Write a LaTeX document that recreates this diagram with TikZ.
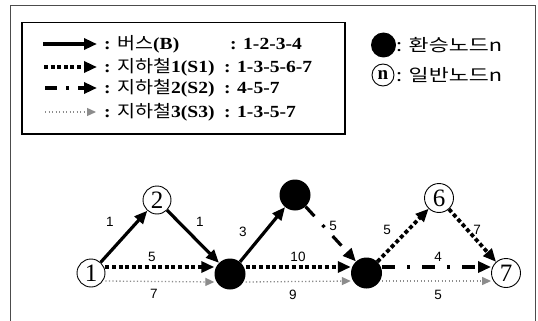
\documentclass[tikz,border=0pt]{standalone}
\usepackage{fontspec}
\usepackage{graphicx}
\setmainfont{Liberation Serif}
\newfontfamily\kr{Noto Sans CJK KR}
\newfontfamily\lsans{Liberation Sans}
\usetikzlibrary{arrows.meta,calc}

\tikzset{
  frameline/.style={line width=0.9pt, black!70},
  legbox/.style={line width=1.1pt, black},
  tipbig/.style={-{Triangle[length=13pt,width=11pt]}},
  bus/.style={line width=3.2pt, tipbig},
  sub1/.style={line width=3.8pt, dash pattern=on 4pt off 2.6pt, tipbig},
  sub2/.style={line width=3.2pt, dash pattern=on 13pt off 12pt on 3pt off 12pt, tipbig},
  sub3/.style={line width=1.3pt, black!45, dash pattern=on 1.2pt off 2.3pt, -{Triangle[length=9pt,width=8pt]}},
  plainnode/.style={circle, draw, line width=0.9pt, minimum size=28pt, inner sep=0pt, font=\fontsize{25}{25}\selectfont},
  xfer/.style={circle, fill=black, minimum size=31pt, inner sep=0pt},
  wlabel/.style={font=\lsans\fontsize{13.5}{13.5}\selectfont, inner sep=0pt},
  legtext/.style={anchor=west, inner sep=0pt, font=\bfseries\fontsize{17}{17}\selectfont},
  krtext/.style={anchor=west, inner sep=0pt, font=\kr\fontsize{17}{17}\selectfont},
}
\newcommand{\wide}[1]{\scalebox{1.15}[1]{#1}}
\newcommand{\krwide}[1]{\scalebox{1.28}[1]{#1}}

\begin{document}
\begin{tikzpicture}[x=1pt,y=-1pt]
\useasboundingbox (0,0) rectangle (538,321);
\fill[white] (0,0) rectangle (538,321);

% outer frame (bottom edge outside picture)
\draw[frameline] (10,321) -- (10,5.5) -- (535,5.5) -- (535,321);
% legend box
\draw[legbox] (22,22.5) rectangle (345,134);

% legend arrows
\coordinate (la1) at (43,44);  \coordinate (lb1) at (97,44);
\coordinate (la2) at (44,67);  \coordinate (lb2) at (97,67);
\coordinate (la3) at (45,88);  \coordinate (lb3) at (97,88);
\coordinate (la4) at (45,112); \coordinate (lb4) at (96,112);
\draw[bus] (la1) -- (lb1);
\draw[sub1] (la2) -- (lb2);
\draw[sub2, dash pattern=on 12pt off 9pt on 3pt off 9pt] (la3) -- (lb3);
\draw[sub3] (la4) -- (lb4);

% legend texts
\node[legtext] (t1) at (104,44) {\wide{: {\kr\mdseries 버스}(B)}};
\node[legtext] (t2) at (104,67) {\wide{: {\kr\mdseries 지하철}1(S1)}};
\node[legtext] (t3) at (104,88) {\wide{: {\kr\mdseries 지하철}2(S2)}};
\node[legtext] (t4) at (104,112) {\wide{: {\kr\mdseries 지하철}3(S3)}};
\node[legtext] (r1) at (230,44) {\wide{: 1-2-3-4}};
\node[legtext] (r2) at (224,67) {\wide{: 1-3-5-6-7}};
\node[legtext] (r3) at (224,88) {\wide{: 4-5-7}};
\node[legtext] (r4) at (224,112) {\wide{: 1-3-5-7}};

% right legend
\node[xfer, minimum size=25pt] (lx) at (383.5,45) {};
\node[krtext] (lxt) at (396,45) {\krwide{: 환승노드n}};
\node[circle, draw, line width=0.9pt, minimum size=22pt, inner sep=0pt, font=\bfseries\fontsize{19}{19}\selectfont] (lp) at (383,75) {n};
\node[krtext] (lpt) at (396,75) {\krwide{: 일반노드n}};

% graph nodes
\node[plainnode] (n1) at (91,273) {1};
\node[plainnode] (n2) at (157,200) {2};
\node[xfer] (n3) at (230,274) {};
\node[xfer] (n4) at (295,195) {};
\node[xfer] (n5) at (366.5,273) {};
\node[plainnode, minimum size=29pt] (n6) at (439,198) {6};
\node[plainnode, minimum size=29pt] (n7) at (506,273) {7};

% bus
\draw[bus] (n1) -- (n2);
\draw[bus] (n2) -- (n3);
\draw[bus] (n3) -- (n4);
% subway 1
\draw[sub1] ([yshift=6pt]n1.east) -- ([yshift=7pt]n3.west);
\draw[sub1] ([yshift=7pt]n3.east) -- ([yshift=6pt]n5.west);
\draw[sub1] (n5) -- (n6);
\draw[sub1] (n6) -- (n7);
% subway 2
\draw[sub2] (n4) -- (n5);
\draw[sub2] ([yshift=6pt]n5.east) -- ([yshift=6pt]n7.west);
% subway 3
\draw[sub3] ([yshift=-8pt]n1.east) -- ([yshift=-8pt]n3.west);
\draw[sub3] ([yshift=-8pt]n3.east) -- ([yshift=-8pt]n5.west);
\draw[sub3] ([yshift=-8pt]n5.east) -- ([yshift=-8pt]n7.west);

% weights
\node[wlabel] (w12) at (110,222) {1};
\node[wlabel] (w23) at (200,222) {1};
\node[wlabel] (w13a) at (152,257) {5};
\node[wlabel] (w13b) at (154,294) {7};
\node[wlabel] (w34) at (243,232) {3};
\node[wlabel] (w35a) at (298,257) {10};
\node[wlabel] (w35b) at (293,295) {9};
\node[wlabel] (w45) at (333,226) {5};
\node[wlabel] (w56) at (387,230) {5};
\node[wlabel] (w67) at (477,230) {7};
\node[wlabel] (w57a) at (438,257) {4};
\node[wlabel] (w57b) at (438,295) {5};
\end{tikzpicture}
\end{document}
